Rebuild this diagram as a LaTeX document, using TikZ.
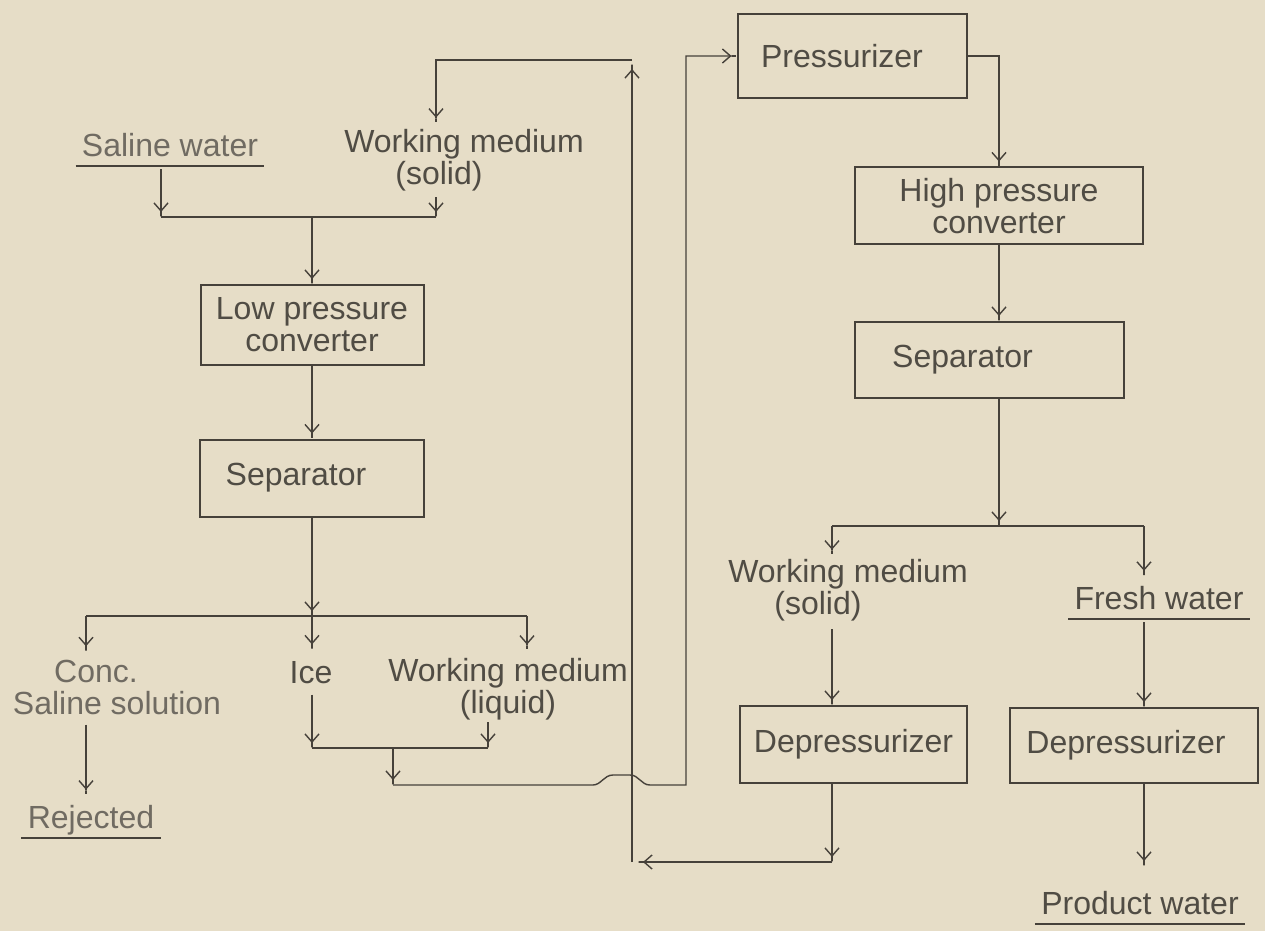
\documentclass[tikz,border=0pt]{standalone}
\usepackage{fontspec}
\setmainfont{Liberation Sans}
\usetikzlibrary{arrows.meta}
\definecolor{bg}{RGB}{230,221,199}
\definecolor{ink}{RGB}{70,65,58}
\definecolor{txt}{RGB}{80,76,68}
\definecolor{txtl}{RGB}{112,107,98}
\begin{document}
\begin{tikzpicture}[x=0.5pt,y=-0.5pt,
  every node/.style={font=\fontsize{16}{16}\selectfont, text=txt},
  box/.style={draw=ink, line width=1pt, inner sep=0pt, align=center},
  lbl/.style={inner sep=1pt, align=center},
  faded/.style={text=txtl},
  line/.style={draw=ink, line width=0.7pt},
  arr/.style={line, -{Straight Barb[length=4pt,width=7pt,sep=0pt] Rectangle[length=2.5pt,width=0.7pt]}},
  ul/.style={draw=ink, line width=1pt}
]
\fill[bg] (0,0) rectangle (1265,931);
\useasboundingbox (0,0) rectangle (1265,931);

% boxes
\node[box, minimum width=111.5pt, minimum height=40pt] (lpc) at (312,325) {Low pressure\\converter};
\node[box, minimum width=112pt, minimum height=38.5pt] (sep1) at (312,478) {Separator\hspace*{16pt}};
\node[box, minimum width=114.5pt, minimum height=42pt] (pres) at (852,56) {Pressurizer\hspace*{10pt}};
\node[box, minimum width=144pt, minimum height=38.5pt] (hpc) at (999,206) {High pressure\\converter};
\node[box, minimum width=134.5pt, minimum height=38pt] (sep2) at (989.5,360) {Separator\hspace*{27pt}};
\node[box, minimum width=113.5pt, minimum height=38.5pt] (dep1) at (853.5,744.5) {Depressurizer};
\node[box, minimum width=124pt, minimum height=37.5pt] (dep2) at (1134,745.5) {Depressurizer\hspace*{8pt}};

% labels
\node[lbl, faded] (saline) at (170,145) {Saline water};
\node[lbl] (wms1) at (464,160) {Working medium\\(solid)\hspace*{25pt}};
\node[lbl, faded] (conc) at (117,687) {Conc.\hspace*{21pt}\\Saline solution};
\node[lbl] (ice) at (311,673) {Ice};
\node[lbl] (wml) at (508,689) {Working medium\\(liquid)};
\node[lbl] (wms2) at (848,590) {Working medium\\(solid)\hspace*{30pt}};
\node[lbl] (fresh) at (1159,598) {Fresh water};
\node[lbl] (product) at (1140,903) {Product water};
\node[lbl, faded] (rej) at (91,820) {Rejected};

% underlines
\foreach \n in {saline,fresh,product,rej}
  \draw[ul] ([xshift=-2pt,yshift=-5pt]\n.base west) -- ([xshift=2pt,yshift=-5pt]\n.base east);

% junction coordinates
\coordinate (j1L) at (161,217); \coordinate (j1M) at (312,217); \coordinate (j1R) at (436,217);
\coordinate (j2L) at (86,616); \coordinate (j2M) at (312,616); \coordinate (j2R) at (527,616);
\coordinate (j3L) at (312,748); \coordinate (j3M) at (393,748); \coordinate (j3R) at (488,748);
\coordinate (j4) at (393,785); \coordinate (j6) at (686,785);
\coordinate (j5L) at (832,526); \coordinate (j5M) at (999,526); \coordinate (j5R) at (1144,526);
\coordinate (r1) at (832,862); \coordinate (r2) at (632,862); \coordinate (r3) at (632,60); \coordinate (r4) at (436,60);
\coordinate (pw) at (1144,866);

% left feed
\draw[arr] (j1L |- saline.south) ++(0,10) -- (j1L);
\draw[arr, shorten <=2pt] (wms1.south -| j1R) -- (j1R);
\draw[line] (j1L) -- (j1R);
\draw[arr] (j1M) -- (lpc.north);
\draw[arr] (lpc) -- (sep1);
\draw[arr] (sep1.south) -- (j2M);
\draw[line] (j2L) -- (j2R);
\draw[arr, shorten >=3pt] (j2L) -- (conc.north -| j2L);
\draw[arr, shorten >=5pt] (j2M) -- (ice.north -| j2M);
\draw[arr, shorten >=3pt] (j2R) -- (wml.north -| j2R);
\draw[arr, shorten <=4pt, shorten >=4pt] (conc.south -| j2L) -- (rej.north -| j2L);
\draw[arr, shorten <=4pt] (ice.south -| j3L) -- (j3L);
\draw[arr] (wml.south -| j3R) -- (j3R);
\draw[line] (j3L) -- (j3R);
\draw[arr] (j3M) -- (j4);

% to pressurizer, with hop over return line
\draw[arr] (j4) -- (593,785) .. controls (601,785) and (604,775) .. (613,775) -- (630,775)
  .. controls (639,775) and (641,785) .. (650,785) -- (j6) -- (j6 |- pres.west) -- (pres.west);

% right branch
\draw[arr] (pres.east) -| (hpc.north);
\draw[arr] (hpc.south) -- (hpc.south |- sep2.north);
\draw[arr] (sep2.south -| j5M) -- (j5M);
\draw[line] (j5L) -- (j5R);
\draw[arr, shorten >=1pt] (j5L) -- (wms2.north -| j5L);
\draw[arr, shorten >=4pt] (j5R) -- (fresh.north -| j5R);
\draw[arr, shorten <=3pt] (wms2.south -| j5L) -- (dep1.north -| j5L);
\draw[arr, shorten <=5pt] (fresh.south -| j5R) -- (dep2.north -| j5R);
\draw[arr] (dep2.south -| j5R) -- (pw);

% return loop
\draw[arr] (dep1.south -| r1) -- (r1);
\draw[arr, shorten >=3pt] (r1) -- (r2);
\draw[arr, shorten >=2pt] (r2) -- (r3);
\draw[arr, shorten >=2pt] (r3) -- (r4) -- (wms1.north -| r4);
\end{tikzpicture}
\end{document}
